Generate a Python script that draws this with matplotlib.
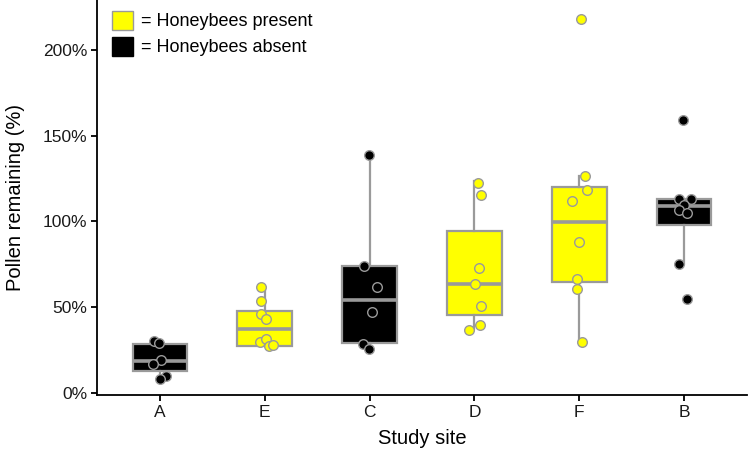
import matplotlib
matplotlib.use('Agg')
import matplotlib.pyplot as plt
from matplotlib.patches import Patch
from matplotlib.ticker import FuncFormatter

plt.rcParams['font.family'] = ['Liberation Sans', 'DejaVu Sans']

# Study sites in plotted order, and whether honeybees were present
sites = ['A', 'E', 'C', 'D', 'F', 'B']
bees_present = [False, True, False, True, True, False]

# Box summary (% pollen remaining)
whisker_low = [9.5, 27.4, 25.7, 37.2, 29.9, 75.4]
q1 = [13.0, 27.4, 29.0, 45.5, 64.5, 97.6]
median = [18.8, 37.1, 54.2, 63.4, 99.9, 108.7]
q3 = [28.6, 48.0, 74.2, 94.6, 120.1, 113.1]
whisker_high = [30.5, 61.6, 138.8, 123.8, 126.7, 113.1]

# Individual observations per site (% pollen remaining)
obs_A = [30.5, 29.0, 19.2, 16.9, 9.9, 8.0]
obs_E = [61.6, 53.6, 45.9, 43.0, 29.7, 31.5, 27.4, 28.2]
obs_C = [138.8, 74.2, 62.0, 47.4, 28.6, 25.7]
obs_D = [122.3, 115.6, 72.9, 63.4, 50.9, 39.7, 36.7]
obs_F = [217.9, 126.7, 118.0, 112.1, 88.2, 66.3, 60.8, 29.9]
obs_B = [158.8, 113.1, 113.1, 109.4, 106.7, 105.1, 75.2, 54.8]

# horizontal jitter of each observation (site units), as seen in the chart
jit_A = [-0.057, -0.01, 0.012, -0.067, 0.054, -0.003]
jit_E = [-0.032, -0.032, -0.032, 0.01, -0.045, 0.015, 0.041, 0.082]
jit_C = [-0.01, -0.057, 0.067, 0.023, -0.067, -0.01]
jit_D = [0.038, 0.064, 0.048, 0.003, 0.067, 0.057, -0.054]
jit_F = [0.016, 0.057, 0.074, -0.074, -0.007, -0.022, -0.026, 0.026]
jit_B = [-0.007, -0.045, 0.067, 0, -0.05, 0.032, -0.045, 0.032]

observations = [obs_A, obs_E, obs_C, obs_D, obs_F, obs_B]
jitters = [jit_A, jit_E, jit_C, jit_D, jit_F, jit_B]

YELLOW = '#ffff00'
BLACK = '#000000'
GREY = '#9a9a9a'

fig = plt.figure(figsize=(7.49, 4.49), dpi=100)
ax = fig.add_axes([97 / 749, 54 / 449, 650 / 749, 395 / 449])

stats = []
for i in range(len(sites)):
    stats.append({'whislo': whisker_low[i], 'q1': q1[i], 'med': median[i],
                  'q3': q3[i], 'whishi': whisker_high[i], 'fliers': []})

positions = list(range(1, len(sites) + 1))
bp = ax.bxp(stats, positions=positions, widths=0.52, patch_artist=True,
            showcaps=False, showfliers=False,
            boxprops=dict(edgecolor=GREY, linewidth=1.6),
            whiskerprops=dict(color=GREY, linewidth=1.6),
            medianprops=dict(color=GREY, linewidth=2.6, solid_capstyle='butt'))
for patch, present in zip(bp['boxes'], bees_present):
    patch.set_facecolor(YELLOW if present else BLACK)

for pos, obs, jit, present in zip(positions, observations, jitters, bees_present):
    xs = [pos + j for j in jit]
    ax.scatter(xs, obs, s=48, c=YELLOW if present else BLACK,
               edgecolors=GREY, linewidths=1.0, zorder=5)

ax.set_xlim(0.4, 6.6)
ax.set_ylim(-1.2, 229)
ax.set_xticks(positions)
ax.set_xticklabels(sites)
ax.set_yticks([0, 50, 100, 150, 200])
ax.yaxis.set_major_formatter(FuncFormatter(lambda v, p: f'{v:.0f}%'))

for side in ['top', 'right']:
    ax.spines[side].set_visible(False)
for side in ['left', 'bottom']:
    ax.spines[side].set_linewidth(1.3)
ax.tick_params(axis='both', length=4, width=1.3, labelsize=12.5,
               labelcolor='#1a1a1a', pad=3)

ax.set_xlabel('Study site', fontsize=14.5, labelpad=7)
ax.set_ylabel('Pollen remaining (%)', fontsize=14.5, labelpad=13)

handles = [Patch(facecolor=YELLOW, edgecolor=GREY, linewidth=1.0),
           Patch(facecolor=BLACK, edgecolor=BLACK, linewidth=1.0)]
ax.legend(handles, ['= Honeybees present', '= Honeybees absent'],
          loc='upper left', bbox_to_anchor=(0.006, 1.0), frameon=False,
          fontsize=13, handlelength=1.2, handleheight=1.25,
          handletextpad=0.4, labelspacing=0.35, borderaxespad=0.2)

fig.savefig('out.png', dpi=100)
